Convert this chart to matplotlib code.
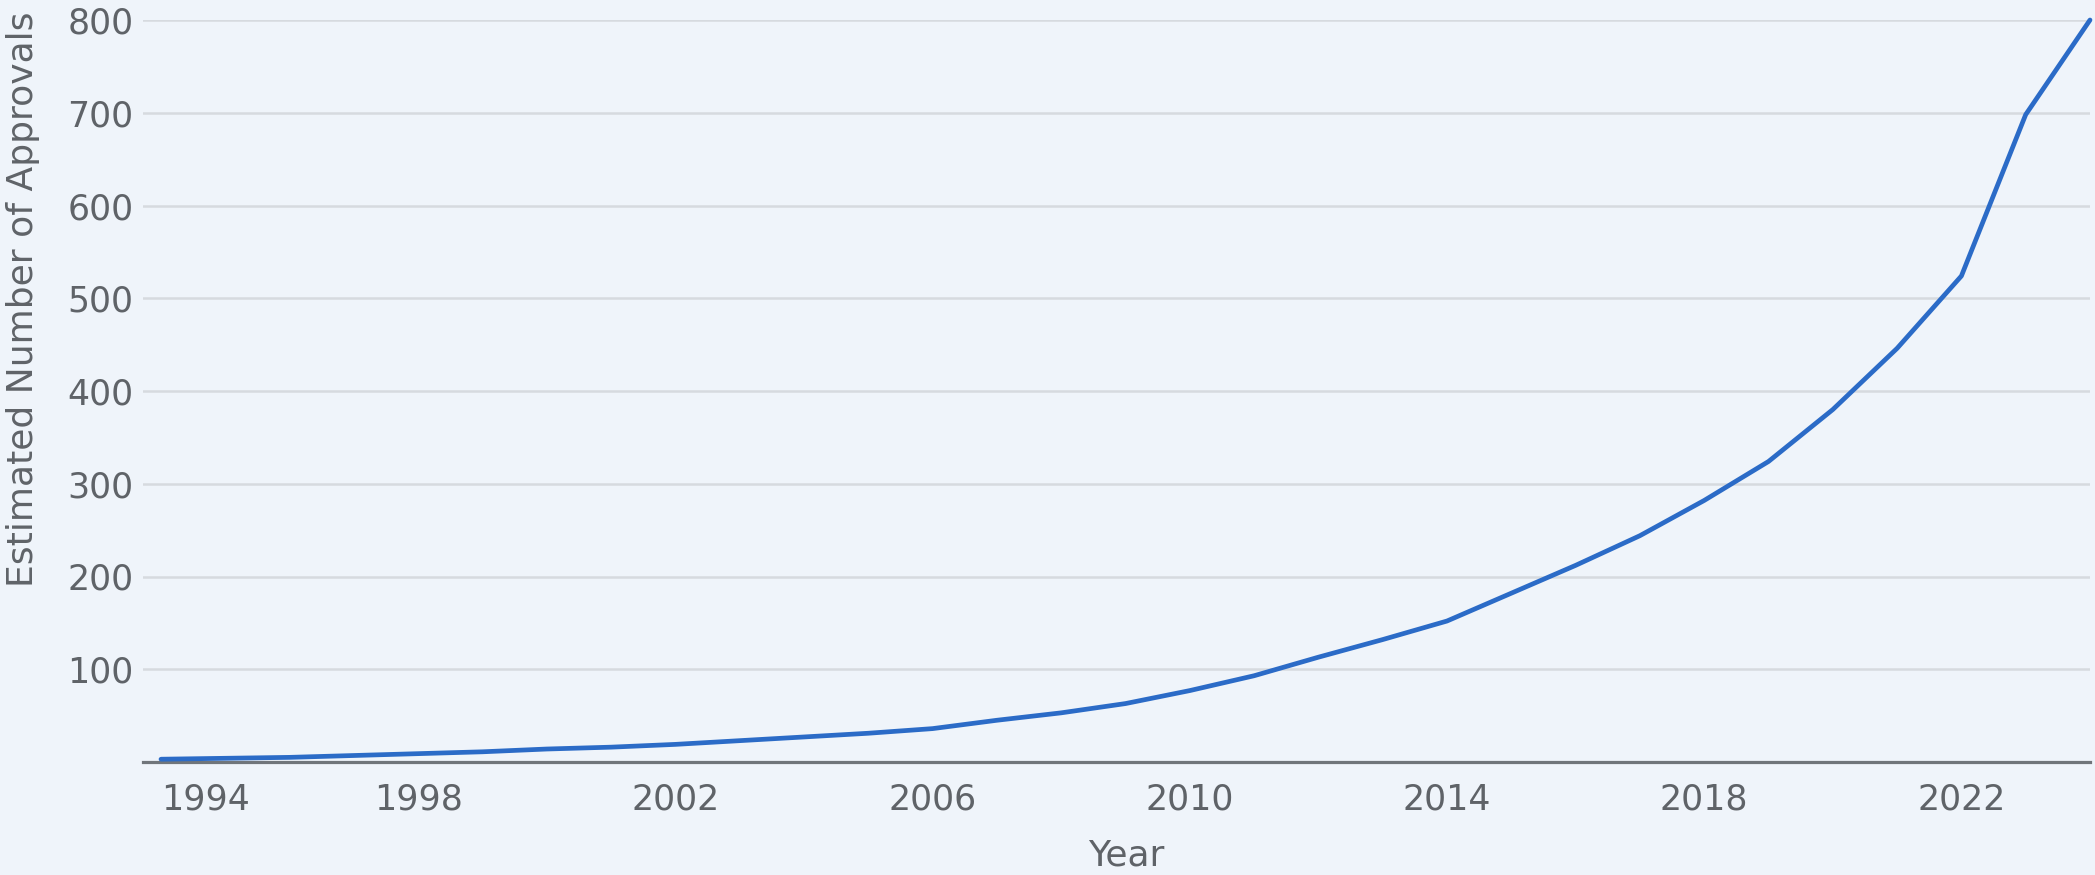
import matplotlib
matplotlib.use("Agg")
import matplotlib.pyplot as plt

plt.rcParams['font.family'] = ['DejaVu Sans']

# estimated approvals per year
years = list(range(1994, 2025))
approvals = [3, 4, 5, 7, 9, 11, 14, 16, 19, 23, 27, 31, 36, 45, 53, 63,
             77, 93, 113, 132, 152, 182, 212, 244, 282, 324, 380, 446, 524,
             698, 800]

x_ticks = [1994, 1998, 2002, 2006, 2010, 2014, 2018, 2022]
y_ticks = [100, 200, 300, 400, 500, 600, 700, 800]

bg = '#eff4fa'
txt = '#5f6368'

fig = plt.figure(figsize=(20.95, 8.75), dpi=100, facecolor=bg)
# plot area in pixels: x 143..2090, y 20..762
ax = fig.add_axes([143 / 2095, 1 - 762 / 875, (2090 - 143) / 2095, (762 - 20) / 875])
ax.set_facecolor(bg)

ax.plot(years, approvals, color='#2b6bc7', lw=3.4, solid_joinstyle='round',
        solid_capstyle='round', zorder=4, clip_on=False)

ax.set_xlim(1993.72, 2024.0)
ax.set_ylim(0, 800)
ax.set_yticks(y_ticks)
ax.set_xticks(x_ticks)
ax.set_xticklabels([str(y) for y in x_ticks])
ax.grid(axis='y', color='#d6dadf', lw=1.8, zorder=1)
ax.axhline(0, color='#70757a', lw=2.3, zorder=3, clip_on=False)

for s in ax.spines.values():
    s.set_visible(False)
ax.tick_params(axis='both', length=0, labelsize=25, colors=txt)
ax.tick_params(axis='x', pad=15)
ax.tick_params(axis='y', pad=7)
ax.get_xticklabels()[0].set_horizontalalignment('left')

ax.set_xlabel('Year', fontsize=26, color=txt)
ax.xaxis.set_label_coords(0.505, -0.103)
ax.set_ylabel('Estimated Number of Approvals', fontsize=26, color=txt)
ax.yaxis.set_label_coords(-0.053, 0.623)

fig.savefig('out.png', dpi=100, facecolor=bg)
